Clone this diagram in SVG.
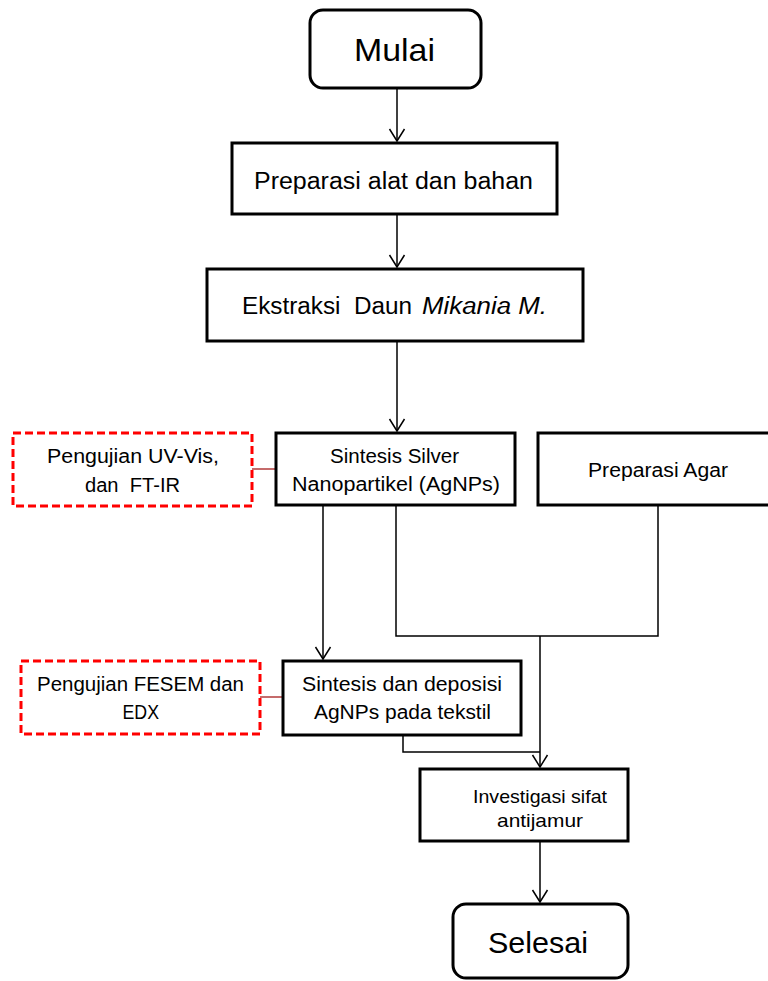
<svg xmlns="http://www.w3.org/2000/svg" width="768" height="981" viewBox="0 0 768 981">
<defs>
<style>
.box{fill:#fff;stroke:#000;stroke-width:3}
.test{fill:#fff;stroke:#f00;stroke-width:3;stroke-dasharray:8 4}
.t{font-family:"Liberation Sans",Arial,sans-serif;fill:#000;white-space:pre}
.c{fill:none;stroke:#000;stroke-width:1.5}
.r{fill:none;stroke:#B23A3A;stroke-width:1.5}
</style>
<marker id="arr" viewBox="0 0 12 15" refX="12" refY="7.5" markerWidth="12" markerHeight="15" markerUnits="userSpaceOnUse" orient="auto" overflow="visible">
<path d="M0,0 L12,7.5 L0,15" fill="none" stroke="#000" stroke-width="1.5"/>
</marker>
</defs>
<rect width="768" height="981" fill="#fff"/>
<g id="connectors">
<path class="c" d="M397,88 V141" marker-end="url(#arr)"/>
<path class="c" d="M397,213 V267" marker-end="url(#arr)"/>
<path class="c" d="M397,341 V431" marker-end="url(#arr)"/>
<path class="c" d="M323,505 V659" marker-end="url(#arr)"/>
<path class="c" d="M396,505 V636 H658 V505"/>
<path class="c" d="M540,636 V767" marker-end="url(#arr)"/>
<path class="c" d="M403,735 V752 H540"/>
<path class="c" d="M540,842 V902" marker-end="url(#arr)"/>
<path class="r" d="M252,469 H276"/>
<path class="r" d="M260,697 H283"/>
</g>
<g id="mulai">
<rect class="box" x="310" y="10" width="171" height="78" rx="13"/>
<text class="t" x="354" y="61" font-size="32" textLength="81" lengthAdjust="spacingAndGlyphs">Mulai</text>
</g>
<g id="preparasi-alat">
<rect class="box" x="232" y="143" width="325" height="71"/>
<text class="t" x="254" y="188.5" font-size="23" textLength="279" lengthAdjust="spacingAndGlyphs">Preparasi alat dan bahan</text>
</g>
<g id="ekstraksi">
<rect class="box" x="207" y="269" width="376" height="72"/>
<text class="t" y="314" font-size="23"><tspan x="242" textLength="170" lengthAdjust="spacingAndGlyphs">Ekstraksi  Daun</tspan><tspan x="422" font-style="italic" textLength="125" lengthAdjust="spacingAndGlyphs">Mikania M.</tspan></text>
</g>
<g id="uji-uvvis">
<rect class="test" x="13" y="433" width="239" height="73"/>
<text class="t" x="47" y="463" font-size="20" textLength="172" lengthAdjust="spacingAndGlyphs">Pengujian UV-Vis,</text>
<text class="t" x="85" y="492" font-size="20" textLength="95" lengthAdjust="spacingAndGlyphs">dan  FT-IR</text>
</g>
<g id="sintesis-silver">
<rect class="box" x="276" y="433" width="239" height="72"/>
<text class="t" x="330" y="463" font-size="20" textLength="129" lengthAdjust="spacingAndGlyphs">Sintesis Silver</text>
<text class="t" x="292" y="491" font-size="20" textLength="208" lengthAdjust="spacingAndGlyphs">Nanopartikel (AgNPs)</text>
</g>
<g id="preparasi-agar">
<rect class="box" x="538" y="433" width="240" height="72"/>
<text class="t" x="588" y="477" font-size="20" textLength="140" lengthAdjust="spacingAndGlyphs">Preparasi Agar</text>
</g>
<g id="uji-fesem">
<rect class="test" x="21" y="661" width="239" height="73"/>
<text class="t" x="37" y="691" font-size="20" textLength="207" lengthAdjust="spacingAndGlyphs">Pengujian FESEM dan</text>
<text class="t" x="122.5" y="719" font-size="20" textLength="36.5" lengthAdjust="spacingAndGlyphs">EDX</text>
</g>
<g id="deposisi">
<rect class="box" x="283" y="661" width="238" height="74"/>
<text class="t" x="302" y="691" font-size="20" textLength="200" lengthAdjust="spacingAndGlyphs">Sintesis dan deposisi</text>
<text class="t" x="314" y="719" font-size="20" textLength="177" lengthAdjust="spacingAndGlyphs">AgNPs pada tekstil</text>
</g>
<g id="investigasi">
<rect class="box" x="420" y="769" width="208" height="72"/>
<text class="t" x="473" y="803" font-size="19" textLength="134" lengthAdjust="spacingAndGlyphs">Investigasi sifat</text>
<text class="t" x="497" y="827" font-size="19" textLength="86" lengthAdjust="spacingAndGlyphs">antijamur</text>
</g>
<g id="selesai">
<rect class="box" x="453" y="904" width="175" height="74" rx="13"/>
<text class="t" x="488" y="953" font-size="30" textLength="100" lengthAdjust="spacingAndGlyphs">Selesai</text>
</g>
</svg>
